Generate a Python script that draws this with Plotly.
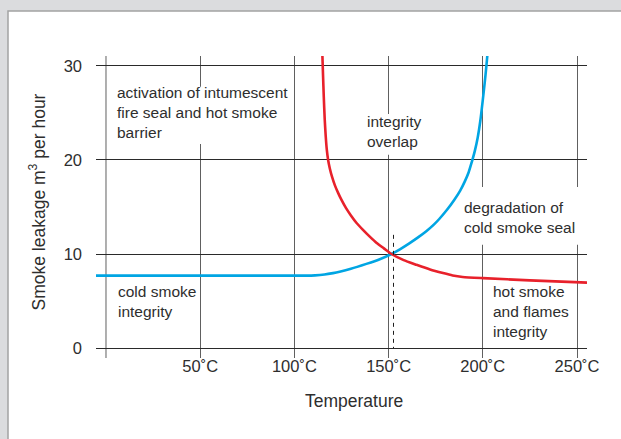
import plotly.graph_objects as go

# ---------------- data ----------------
temp_blue = [-5.3, 0, 50, 100, 106, 111, 116, 120.5, 124, 130, 138.2, 145, 151.5, 156, 161, 166, 170, 174, 177, 181, 185, 188, 190.4, 192.5, 194.1, 195.8, 197.3, 198.7, 200, 201, 201.9, 202.4, 203]
leak_blue = [7.7, 7.7, 7.7, 7.7, 7.7, 7.73, 7.82, 7.97, 8.12, 8.43, 8.95, 9.42, 10.0, 10.5, 11.13, 11.82, 12.42, 13.12, 13.75, 14.7, 15.8, 16.75, 17.7, 18.7, 19.75, 21.0, 22.4, 24.2, 26.4, 28.2, 30.0, 31.1, 32.5]

temp_red = [114.8, 115.2, 115.6, 116.1, 116.6, 117.2, 117.9, 118.8, 120.0, 121.5, 123.2, 125.0, 127.5, 130.0, 133.0, 136.4, 140.0, 143.5, 147.5, 151.5, 158.0, 164.8, 172.0, 178.9, 184.0, 189.3, 200.0, 225.0, 255.3]
leak_red = [31.5, 29.0, 26.7, 24.3, 22.6, 21.1, 20.0, 19.1, 18.2, 17.3, 16.5, 15.75, 14.85, 14.1, 13.3, 12.57, 11.85, 11.2, 10.6, 10.0, 9.35, 8.85, 8.35, 7.97, 7.72, 7.56, 7.43, 7.2, 6.96]

crossover_temp = [152.6, 152.6]
crossover_leak = [12.04, 0]

x_tick_vals = [50, 100, 150, 200, 250]
x_tick_text = ["50˚C", "100˚C", "150˚C", "200˚C", "250˚C"]
y_tick_vals = [0, 10, 20, 30]
y_tick_text = ["0", "10", "20", "30"]
x_origin = 0

x_title = "Temperature"
y_title = "Smoke leakage m<sup>3</sup> per hour"

notes = [
    ("activation of intumescent<br>fire seal and hot smoke<br>barrier", 5.15, 25.04),
    ("integrity<br>overlap", 138.2, 23.02),
    ("degradation of<br>cold smoke seal", 189.3, 13.9),
    ("cold smoke<br>integrity", 6.05, 4.92),
    ("hot smoke<br>and flames<br>integrity", 205.1, 3.86),
]

FONT = "Liberation Sans, Arial, Helvetica, sans-serif"
TXT = "#2e2e2e"
VGRID = "#606060"

fig = go.Figure()

fig.add_trace(go.Scatter(x=temp_blue, y=leak_blue, mode="lines",
                         line=dict(color="#00a5e3", width=2.6, shape="spline", smoothing=0.6),
                         hoverinfo="skip"))
fig.add_trace(go.Scatter(x=temp_red, y=leak_red, mode="lines",
                         line=dict(color="#e8212b", width=2.6, shape="spline", smoothing=0.6),
                         hoverinfo="skip"))
fig.add_trace(go.Scatter(x=crossover_temp, y=crossover_leak, mode="lines",
                         line=dict(color="#1e1e1e", width=1, dash="4px,4px"), hoverinfo="skip"))

# panel (white card with border on grey page)
fig.add_shape(type="rect", xref="paper", yref="paper",
              x0=(8 - 96) / 491, x1=2, y0=-1, y1=(358 - 11) / 302,
              fillcolor="white", line=dict(color="#a3a3a3", width=1.5), layer="below")

# 0 degC vertical grid line
fig.add_shape(type="line", xref="x", yref="paper", x0=x_origin, x1=x_origin, y0=0, y1=1,
              line=dict(color=VGRID, width=1), layer="between")

# white boxes behind labels that interrupt grid lines
for x0, x1, y0, y1 in [(3, 97, 21.71, 27.78), (135.7, 168.5, 20.55, 24.9), (195, 262, 10.98, 17.14)]:
    fig.add_shape(type="rect", xref="x", yref="y", x0=x0, x1=x1, y0=y0, y1=y1,
                  fillcolor="white", line=dict(width=0), layer="between")

for text, xv, yv in notes:
    fig.add_annotation(x=xv, y=yv, xref="x", yref="y", text=text, showarrow=False,
                       xanchor="left", yanchor="middle", align="left",
                       font=dict(family=FONT, size=15.5, color=TXT), borderpad=0)

fig.add_annotation(x=(353.8 - 96) / 491, y=(358 - 400.7) / 302, xref="paper", yref="paper",
                   text=x_title, showarrow=False, xanchor="center", yanchor="middle",
                   font=dict(family=FONT, size=17.5, color=TXT))
fig.add_annotation(x=(37 - 96) / 491, y=(358 - 202.5) / 302, xref="paper", yref="paper",
                   text=y_title, showarrow=False, textangle=-90, xanchor="center", yanchor="middle",
                   font=dict(family=FONT, size=17.5, color=TXT))

fig.update_layout(
    width=621, height=439,
    margin=dict(l=96, r=34, t=56, b=81, pad=0),
    paper_bgcolor="#dbdcde", plot_bgcolor="white",
    showlegend=False,
    font=dict(family=FONT, color=TXT),
    xaxis=dict(range=[-5.3, 255.3], tickvals=x_tick_vals, ticktext=x_tick_text,
               showgrid=True, gridcolor=VGRID, gridwidth=1,
               zeroline=False, showline=False, ticks="",
               tickfont=dict(family=FONT, size=16.5, color=TXT),
               ticklabelstandoff=-4, fixedrange=True),
    yaxis=dict(range=[-1.06, 31.06], tickvals=y_tick_vals, ticktext=y_tick_text,
               showgrid=True, gridcolor="#2a2a2a", gridwidth=1,
               zeroline=False, showline=False, ticks="",
               tickfont=dict(family=FONT, size=16.5, color=TXT),
               ticklabelstandoff=13, fixedrange=True),
)

fig.write_html("out.html", config={"displayModeBar": False},
               post_script="document.body.style.margin='0';document.body.style.background='#dbdcde';")
